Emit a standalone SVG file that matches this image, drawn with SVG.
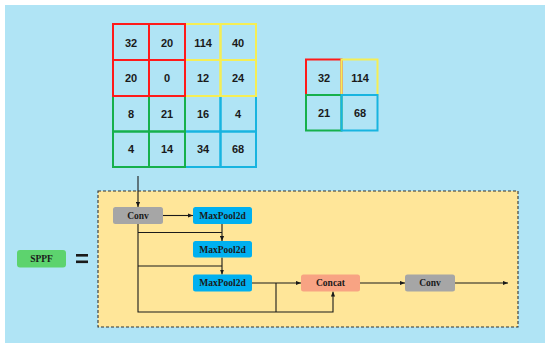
<svg xmlns="http://www.w3.org/2000/svg" width="550" height="348" viewBox="0 0 550 348">
<defs>
<style>
.num{font-family:"Liberation Sans",Arial,sans-serif;font-weight:bold;font-size:11px;fill:#1a1a1a;text-anchor:middle;dominant-baseline:central}
.lbl{font-family:"Liberation Serif","Times New Roman",serif;font-weight:bold;font-size:9.5px;fill:#1a1a1a;text-anchor:middle;dominant-baseline:central}
.cell{fill:none;stroke-width:2}
.r{stroke:#ff1a1a}.y{stroke:#f5ee55}.g{stroke:#16b04c}.b{stroke:#18b4e0}
.ln{fill:none;stroke:#1a1a1a;stroke-width:1.1}
</style>
<marker id="ah" viewBox="0 0 6 6" refX="6" refY="3" markerWidth="5" markerHeight="5" orient="auto" markerUnits="userSpaceOnUse">
<path d="M0,0.5 L6,3 L0,5.5 z" fill="#1a1a1a"/>
</marker>
</defs>
<rect x="0" y="0" width="550" height="348" fill="#ffffff"/>
<rect x="5" y="5" width="540" height="338" fill="#b0e4f5"/>

<g id="grid">
<rect class="cell b" x="185" y="96" width="35.5" height="35.5"/>
<rect class="cell b" x="220.5" y="96" width="35.5" height="35.5"/>
<rect class="cell b" x="185" y="131.5" width="35.5" height="35.5"/>
<rect class="cell b" x="220.5" y="131.5" width="35.5" height="35.5"/>
<rect class="cell g" x="113" y="96" width="36" height="35.5"/>
<rect class="cell g" x="149" y="96" width="36" height="35.5"/>
<rect class="cell g" x="113" y="131.5" width="36" height="35.5"/>
<rect class="cell g" x="149" y="131.5" width="36" height="35.5"/>
<rect class="cell y" x="185" y="24" width="35.5" height="36"/>
<rect class="cell y" x="220.5" y="24" width="35.5" height="36"/>
<rect class="cell y" x="185" y="60" width="35.5" height="36"/>
<rect class="cell y" x="220.5" y="60" width="35.5" height="36"/>
<rect class="cell r" x="113" y="24" width="36" height="36"/>
<rect class="cell r" x="149" y="24" width="36" height="36"/>
<rect class="cell r" x="113" y="60" width="36" height="36"/>
<rect class="cell r" x="149" y="60" width="36" height="36"/>
<text class="num" x="131" y="43">32</text>
<text class="num" x="167" y="43">20</text>
<text class="num" x="203" y="43">114</text>
<text class="num" x="238" y="43">40</text>
<text class="num" x="131" y="78">20</text>
<text class="num" x="167" y="78">0</text>
<text class="num" x="203" y="78">12</text>
<text class="num" x="238" y="78">24</text>
<text class="num" x="131" y="114">8</text>
<text class="num" x="167" y="114">21</text>
<text class="num" x="203" y="114">16</text>
<text class="num" x="238" y="114">4</text>
<text class="num" x="131" y="149">4</text>
<text class="num" x="167" y="149">14</text>
<text class="num" x="203" y="149">34</text>
<text class="num" x="238" y="149">68</text>
</g>

<g id="pooled">
<rect class="cell r" x="306" y="59.5" width="35.5" height="35.5"/>
<rect class="cell y" x="341.5" y="59.5" width="36" height="35.5"/>
<rect class="cell g" x="306" y="95" width="35.5" height="35.5"/>
<rect class="cell b" x="341.5" y="95" width="36" height="35.5"/>
<text class="num" x="324" y="78">32</text>
<text class="num" x="360" y="78">114</text>
<text class="num" x="324" y="113">21</text>
<text class="num" x="360" y="113">68</text>
</g>

<g id="sppf">
<rect x="17" y="250" width="49" height="17.5" rx="3" fill="#5dd36e"/>
<text class="lbl" x="41.5" y="259">SPPF</text>
</g>
<g id="equals">
<rect x="76" y="254" width="12" height="2.6" fill="#1a1a1a"/>
<rect x="76" y="260.5" width="12" height="2.6" fill="#1a1a1a"/>
</g>

<g id="block">
<rect x="98" y="191" width="420" height="136" fill="#ffe699" stroke="#333" stroke-width="1.1" stroke-dasharray="3,2"/>
</g>

<g id="connectors">
<path class="ln" d="M138,176 V207" marker-end="url(#ah)"/>
<path class="ln" d="M163,215.5 H193" marker-end="url(#ah)"/>
<path class="ln" d="M138,224 V312 H333 V291.5" marker-end="url(#ah)"/>
<path class="ln" d="M138,232.5 H222"/>
<path class="ln" d="M222,224 V241" marker-end="url(#ah)"/>
<path class="ln" d="M138,266 H222"/>
<path class="ln" d="M222,257.5 V274.5" marker-end="url(#ah)"/>
<path class="ln" d="M252,283 H301" marker-end="url(#ah)"/>
<path class="ln" d="M276,283 V312"/>
<path class="ln" d="M360,283 H405" marker-end="url(#ah)"/>
<path class="ln" d="M455,283 H508" marker-end="url(#ah)"/>
</g>

<g id="conv1">
<rect x="113" y="207" width="50" height="17" rx="2.5" fill="#a6a6a6"/>
<text class="lbl" x="138" y="215.5">Conv</text>
</g>
<g id="maxpool1">
<rect x="193" y="207" width="59" height="17" rx="2.5" fill="#00b0f0"/>
<text class="lbl" x="222.5" y="215.5">MaxPool2d</text>
</g>
<g id="maxpool2">
<rect x="193" y="241" width="59" height="16.5" rx="2.5" fill="#00b0f0"/>
<text class="lbl" x="222.5" y="249.5">MaxPool2d</text>
</g>
<g id="maxpool3">
<rect x="193" y="274.5" width="59" height="17" rx="2.5" fill="#00b0f0"/>
<text class="lbl" x="222.5" y="283">MaxPool2d</text>
</g>
<g id="concat">
<rect x="301" y="274.5" width="59" height="17" rx="2.5" fill="#f8a383"/>
<text class="lbl" x="330.5" y="283">Concat</text>
</g>
<g id="conv2">
<rect x="405" y="274.5" width="50" height="17" rx="2.5" fill="#a6a6a6"/>
<text class="lbl" x="430" y="283">Conv</text>
</g>
</svg>
